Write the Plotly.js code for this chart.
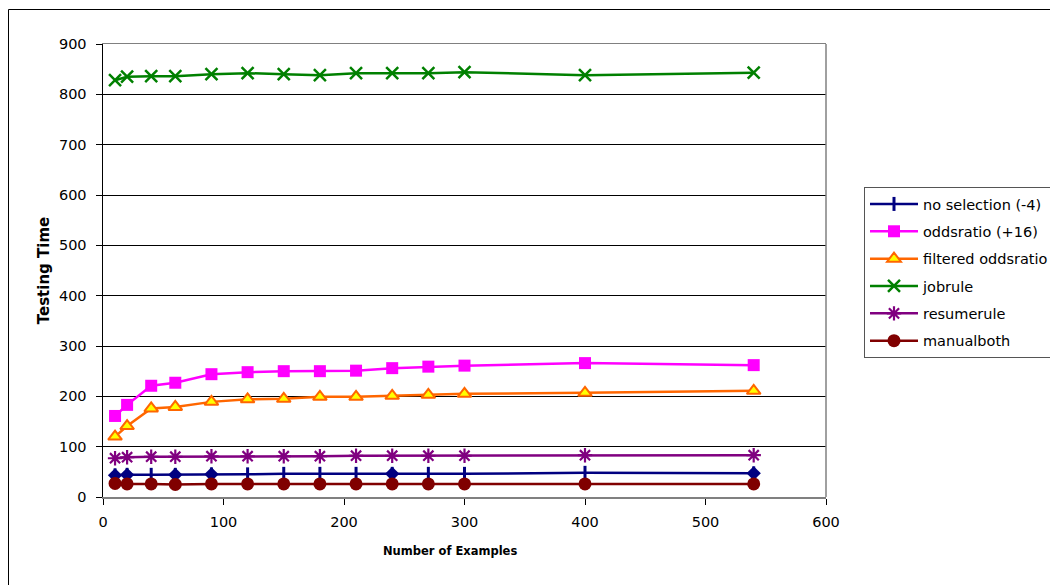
<!DOCTYPE html>
<html>
<head>
<meta charset="utf-8">
<script src="https://cdn.plot.ly/plotly-3.0.1.min.js"></script>
<style>
  html, body { margin: 0; padding: 0; background: #fff; }
  #chart { width: 1050px; height: 585px; }
</style>
</head>
<body>
<div id="chart"></div>
<script>
// Training-set size on the x axis
const examples = [10, 20, 40, 60, 90, 120, 150, 180, 210, 240, 270, 300, 400, 540];

// Testing time per feature-selection method
const noSelection       = [43, 44, 44, 44, 45, 45, 46, 46, 46, 46, 46, 46, 48, 47];
const oddsratio         = [161, 183, 221, 227, 244, 248, 250, 250, 251, 256, 259, 261, 266, 262];
const filteredOddsratio = [120, 141, 176, 179, 189, 194, 195, 199, 199, 201, 203, 205, 207, 211];
const jobrule           = [828, 835, 836, 836, 840, 842, 840, 838, 842, 842, 842, 844, 838, 843];
const resumerule        = [77, 79, 80, 80, 81, 81, 81, 81, 82, 82, 82, 82, 83, 83];
const manualboth        = [27, 26, 26, 25, 26, 26, 26, 26, 26, 26, 26, 26, 26, 26];

const seriesNames = ['no selection (-4)', 'oddsratio (+16)', 'filtered oddsratio',
                     'jobrule', 'resumerule', 'manualboth'];

// Sizes at which the no-selection series also carries a diamond marker
const diamondAt = [10, 20, 60, 90, 240, 540];

const xTicks = [0, 100, 200, 300, 400, 500, 600];
const yTicks = [0, 100, 200, 300, 400, 500, 600, 700, 800, 900];

const xTitle = 'Number of Examples';
const yTitle = 'Testing Time';

const FONT = 'DejaVu Sans, Verdana, sans-serif';

function lineTrace(name, y, color, marker, group) {
  return {
    type: 'scatter', mode: 'lines+markers', name: name,
    x: examples, y: y, legendgroup: group,
    line: { color: color, width: 2.5 },
    marker: marker, cliponaxis: false
  };
}

const diamondIdx = examples.map((v, i) => diamondAt.includes(v) ? i : -1).filter(i => i >= 0);

const traces = [
  lineTrace(seriesNames[0], noSelection, '#000080',
    { symbol: 'line-ns', size: 10, color: '#000080', line: { color: '#000080', width: 3 } }, 'g0'),
  {
    type: 'scatter', mode: 'markers', showlegend: false, hoverinfo: 'skip', legendgroup: 'g0',
    x: diamondIdx.map(i => examples[i]), y: diamondIdx.map(i => noSelection[i]),
    marker: { symbol: 'diamond', size: 11, color: '#000080', line: { width: 0 } }, cliponaxis: false
  },
  lineTrace(seriesNames[1], oddsratio, '#FF00FF',
    { symbol: 'square', size: 12, color: '#FF00FF', line: { width: 0 } }, 'g1'),
  lineTrace(seriesNames[2], filteredOddsratio, '#FF6600',
    { symbol: 'triangle-up', size: 12, color: '#FFFF00', line: { color: '#FF6600', width: 2 } }, 'g2'),
  lineTrace(seriesNames[3], jobrule, '#008000',
    { symbol: 'x-thin-open', size: 12, color: '#008000', line: { color: '#008000', width: 2.5 } }, 'g3'),
  lineTrace(seriesNames[4], resumerule, '#800080',
    { symbol: 'asterisk-open', size: 12, color: '#800080', line: { color: '#800080', width: 2.2 } }, 'g4'),
  lineTrace(seriesNames[5], manualboth, '#800000',
    { symbol: 'circle', size: 13, color: '#800000', line: { width: 0 } }, 'g5')
];

const L = 103, R = 224, T = 44, B = 88;
const W = 1050 - L - R, H = 585 - T - B;
const px = v => (v - L) / W;
const py = v => (585 - B - v) / H;

const layout = {
  width: 1050, height: 585,
  margin: { l: L, r: R, t: T, b: B, pad: 0, autoexpand: false },
  paper_bgcolor: '#ffffff', plot_bgcolor: '#ffffff',
  font: { family: FONT, size: 14, color: '#000' },
  showlegend: true,
  xaxis: {
    range: [0, 600], tickvals: xTicks, ticktext: xTicks.map(String),
    showgrid: false, zeroline: false,
    showline: true, linecolor: '#808080', linewidth: 1.5, mirror: true,
    ticks: 'outside', ticklen: 6, tickcolor: '#000', tickwidth: 1,
    ticklabelstandoff: 5,
    tickfont: { family: FONT, size: 14.5, color: '#000' }
  },
  yaxis: {
    range: [0, 900], tickvals: yTicks, ticktext: yTicks.map(String),
    showgrid: true, gridcolor: '#000', gridwidth: 1, zeroline: false,
    showline: true, linecolor: '#000', linewidth: 1.5,
    ticks: 'outside', ticklen: 6, tickcolor: '#000', tickwidth: 1,
    ticklabelstandoff: 6,
    tickfont: { family: FONT, size: 14.5, color: '#000' },
    title: { text: yTitle, standoff: 5,
             font: { family: FONT, size: 15, weight: 'bold', color: '#000' } }
  },
  legend: {
    x: px(864), y: py(187), xanchor: 'left', yanchor: 'top',
    bgcolor: '#fff', bordercolor: '#555', borderwidth: 1,
    font: { family: FONT, size: 14.5, color: '#000' },
    itemwidth: 48, tracegroupgap: 5.5, traceorder: 'grouped'
  },
  annotations: [
    // x-axis title, sitting slightly left of the plot centre
    { text: xTitle, xref: 'paper', yref: 'paper', x: px(450), y: py(551),
      xanchor: 'center', yanchor: 'middle', showarrow: false,
      font: { family: FONT, size: 11.5, weight: 'bold', color: '#000' } }
  ],
  shapes: [
    // outer frame of the chart area
    { type: 'rect', xref: 'paper', yref: 'paper', layer: 'below',
      x0: px(8.5), x1: px(1060), y0: py(600), y1: py(9.5),
      line: { color: '#000', width: 1 }, fillcolor: 'rgba(0,0,0,0)' },
    // right edge of the plot area
    { type: 'line', xref: 'paper', yref: 'paper', x0: 1, x1: 1, y0: 0, y1: 1,
      line: { color: '#808080', width: 1.5 } }
  ]
};

Plotly.newPlot('chart', traces, layout, { displayModeBar: false, staticPlot: true });
</script>
</body>
</html>
